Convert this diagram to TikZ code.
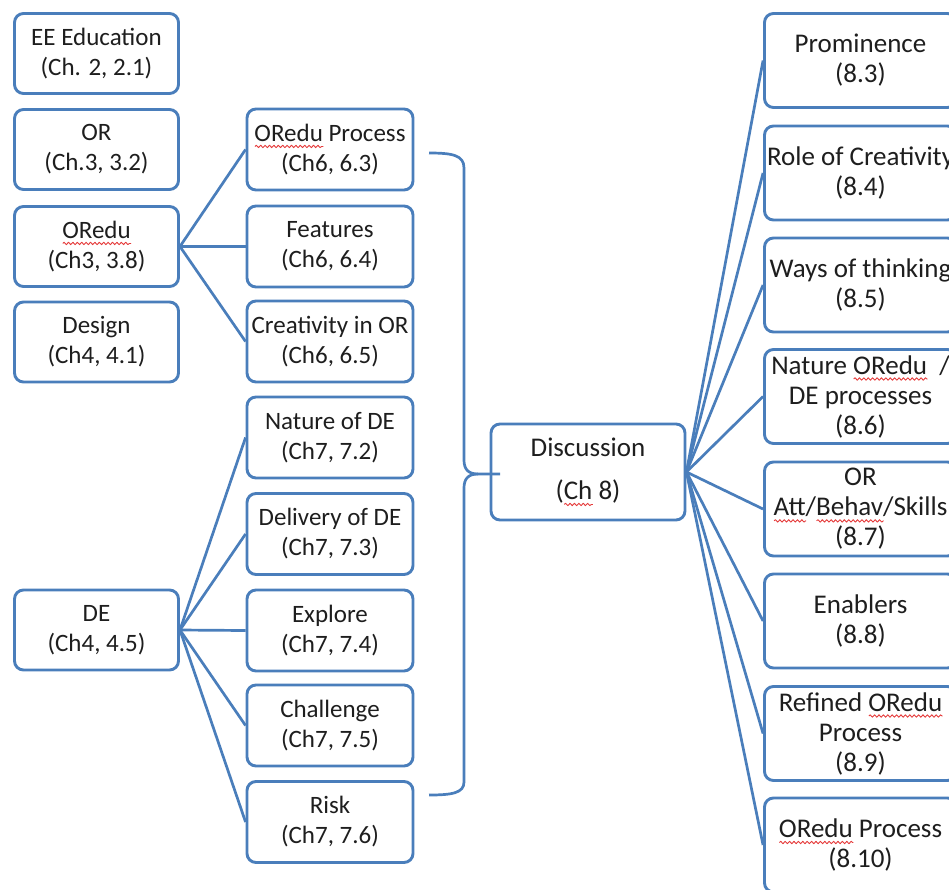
\documentclass[tikz,border=0pt]{standalone}
\usepackage{fontspec}
\setmainfont{Carlito}
\usetikzlibrary{decorations.pathmorphing}
\definecolor{lineblue}{HTML}{4A7EBB}
\definecolor{wavered}{HTML}{E53B3B}
\definecolor{inkdark}{HTML}{1E1E1E}
% red wavy underline used under flagged words
\newsavebox\spellbox
\newdimen\spellw
\newcommand\spell[1]{\sbox\spellbox{#1}\spellw=\wd\spellbox
  \rlap{\tikz[baseline=0pt,x=1pt,y=1pt,sharp corners]\draw[wavered,line width=0.9pt,
    sharp corners,line join=round,
    decorate,decoration={snake,amplitude=1.2pt,segment length=4.4pt}]
    (0,-5) -- (\spellw,-5);}\usebox\spellbox}
\begin{document}
\begin{tikzpicture}[x=1pt,y=-1pt,
  box/.style={draw=lineblue, line width=2.9pt, rounded corners=9pt, align=center,
    text=inkdark, inner sep=0pt, font=\fontsize{25}{30}\selectfont},
  lbox/.style={box, minimum width=164pt, minimum height=80pt},
  mbox/.style={box, minimum width=166pt, minimum height=81pt},
  rbox/.style={box, minimum width=192pt, minimum height=94pt,
    font=\fontsize{27}{30}\selectfont},
  conn/.style={draw=lineblue, line width=2.7pt},
]
\useasboundingbox (0,0) rectangle (949,889);
\clip (0,0) rectangle (949,889);

% left column
\node[lbox] (ee)  at (96.5,53.5)  {EE Education\\(Ch. 2, 2.1)};
\node[lbox] (or)  at (96.5,149.5) {OR\\(Ch.3, 3.2)};
\node[lbox] (ored) at (96.5,246.5) {\spell{ORedu}\\(Ch3, 3.8)};
\node[lbox] (des) at (96.5,342)   {Design\\(Ch4, 4.1)};
\node[lbox] (de)  at (96.5,630)   {DE\\(Ch4, 4.5)};

% middle column
\node[mbox] (proc) at (330,149.5) {\spell{ORedu} Process\\(Ch6, 6.3)};
\node[mbox] (feat) at (330,246.5) {Features\\(Ch6, 6.4)};
\node[mbox] (crea) at (330,341.5) {Creativity in OR\\(Ch6, 6.5)};
\node[mbox] (nat)  at (330,437.5) {Nature of DE\\(Ch7, 7.2)};
\node[mbox] (del)  at (330,534)   {Delivery of DE\\(Ch7, 7.3)};
\node[mbox] (exp)  at (330,630.5) {Explore\\(Ch7, 7.4)};
\node[mbox] (cha)  at (330,725.5) {Challenge\\(Ch7, 7.5)};
\node[mbox] (risk) at (330,822)   {Risk\\(Ch7, 7.6)};

% discussion
\node[box, minimum width=194pt, minimum height=96pt,
  font=\fontsize{27}{30}\selectfont] (disc) at (588,472)
  {Discussion\\[13pt](\spell{Ch} 8)};

% right column
\node[rbox] (r3)  at (860.5,60.5)  {Prominence\\(8.3)};
\node[rbox] (r4)  at (860.5,173)   {Role of Creativity\\(8.4)};
\node[rbox] (r5)  at (860.5,285)   {Ways of thinking\\(8.5)};
\node[rbox] (r6)  at (860.5,396.5) {Nature \spell{ORedu}\ \ /\\DE processes\\(8.6)};
\node[rbox] (r7)  at (860.5,509)   {OR\\\spell{Att}/\spell{Behav}/Skills\\(8.7)};
\node[rbox] (r8)  at (860.5,621)   {Enablers\\(8.8)};
\node[rbox] (r9)  at (860.5,733.5) {Refined \spell{ORedu}\\Process\\(8.9)};
\node[rbox] (r10) at (860.5,845)   {\spell{ORedu} Process\\(8.10)};

% fan-out connectors
\foreach \t in {proc,feat,crea} \draw[conn] (ored.east) -- (\t.west);
\foreach \t in {nat,del,exp,cha,risk} \draw[conn] (de.east) -- (\t.west);
\foreach \t in {r3,r4,r5,r6,r7,r8,r9,r10} \draw[conn] (disc.east) -- (\t.west);

% brace gathering chapters 6 and 7 into the discussion
\coordinate (btop) at (429,153);
\coordinate (bbot) at (429,795);
\coordinate (btip) at (500,474);
\draw[conn, line join=round]
  (btop) .. controls (452,153) and (464,155) .. (464,168)
  -- (464,460) .. controls (464,469) and (468,474) .. (478,474) -- (btip);
\draw[conn, line join=round]
  (478,474) .. controls (468,474) and (464,479) .. (464,488)
  -- (464,782) .. controls (464,793) and (452,795) .. (bbot);
\end{tikzpicture}
\end{document}
